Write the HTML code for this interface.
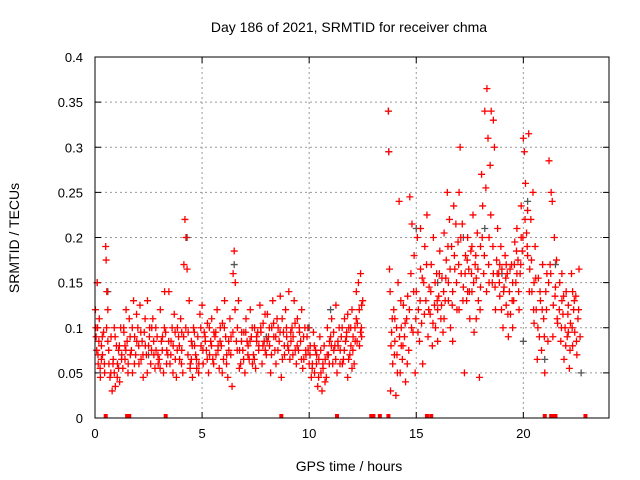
<!DOCTYPE html>
<html><head><meta charset="utf-8"><style>
body{margin:0;background:#fff}
svg{display:block;font-family:"Liberation Sans",sans-serif}
</style></head><body>
<svg id="chart" width="640" height="480" viewBox="0 0 640 480">
<rect width="640" height="480" fill="#fff"/>
<text x="349" y="32" font-size="14" text-anchor="middle">Day 186 of 2021, SRMTID for receiver chma</text>
<text x="0" y="0" font-size="14" text-anchor="middle" transform="translate(19,238) rotate(-90)">SRMTID / TECUs</text>
<text x="349" y="471" font-size="14" text-anchor="middle">GPS time / hours</text>
<g id="grid"></g>
<g id="ticks"></g>
<g id="gray"></g>
<g id="red"></g>
<rect x="95" y="57" width="514" height="361" fill="none" stroke="#000" stroke-width="1"/>
</svg>
<script>
const xTicks=[0,5,10,15,20];
const yTicks=[0,0.05,0.1,0.15,0.2,0.25,0.3,0.35,0.4];
const yTickLabels=["0","0.05","0.1","0.15","0.2","0.25","0.3","0.35","0.4"];
const redT=[0.02,0.05,0.08,0.1,0.12,0.15,0.18,0.2,0.25,0.3,0.35,0.4,0.45,0.5,0.52,0.55,0.6,0.65,0.7,0.75,0.8,0.85,0.9,0.95,1.0,1.05,1.1,1.15,1.2,1.25,1.3,1.35,1.4,1.45,1.5,1.55,1.6,1.7,1.75,1.8,1.85,1.9,2.0,2.05,2.1,2.2,2.25,2.3,2.4,2.45,2.5,2.6,2.65,2.7,2.8,2.85,2.9,3.0,3.05,3.1,3.2,3.25,3.3,3.4,3.45,3.5,3.6,3.65,3.7,3.8,3.9,3.95,4.0,4.05,4.1,4.15,4.2,4.25,4.3,4.35,4.4,4.45,4.5,4.55,4.6,4.7,4.75,4.8,4.9,4.95,5.0,5.05,5.1,5.2,5.25,5.3,5.4,5.45,5.5,5.6,5.65,5.7,5.8,5.85,5.9,6.0,6.05,6.1,6.2,6.25,6.3,6.4,6.45,6.5,6.55,6.6,6.65,6.7,6.8,6.85,6.9,7.0,7.05,7.1,7.2,7.25,7.3,7.4,7.45,7.5,7.6,7.65,7.7,7.8,7.85,7.9,8.0,8.05,8.1,8.2,8.25,8.3,8.4,8.45,8.5,8.6,8.65,8.7,8.8,8.85,8.9,9.0,9.05,9.1,9.2,9.25,9.3,9.4,9.45,9.5,9.6,9.65,9.7,9.8,9.85,9.9,10.0,10.05,10.1,10.2,10.25,10.3,10.4,10.45,10.5,10.6,10.65,10.7,10.8,10.85,10.9,11.0,11.05,11.1,11.2,11.25,11.3,11.4,11.45,11.5,11.6,11.65,11.7,11.8,11.85,11.9,12.0,12.05,12.1,12.2,12.25,12.3,12.35,12.4,12.45,12.5,12.2,12.4,11.8,12.0,
0.3,0.6,0.9,1.1,1.4,1.65,1.95,2.15,2.35,2.55,2.75,2.95,3.15,3.35,3.55,3.75,3.85,4.05,4.5,4.65,4.85,5.15,5.35,5.55,5.75,5.95,6.15,6.35,6.75,6.95,7.15,7.35,7.55,7.75,7.95,8.15,8.35,8.55,8.75,8.95,9.15,9.35,9.55,9.75,9.95,10.15,10.35,10.55,10.75,10.95,11.15,11.35,11.55,11.75,11.95,12.15,12.45,
13.7,13.72,13.75,13.78,13.8,13.85,13.9,13.95,14.0,14.05,14.1,14.15,14.2,14.25,14.3,14.35,14.4,14.45,14.5,14.55,14.6,14.65,14.7,14.75,14.8,14.85,14.9,14.95,15.0,15.05,15.1,15.15,15.2,15.25,15.3,15.35,15.4,15.45,15.5,15.55,15.6,15.65,15.7,15.75,15.8,15.85,15.9,15.95,16.0,16.05,16.1,16.15,16.2,16.25,16.3,16.35,16.4,16.45,16.5,16.55,16.6,16.65,16.7,16.75,16.8,16.85,16.9,16.95,17.0,17.05,17.1,17.15,17.2,17.25,17.3,17.35,17.4,17.45,17.5,17.55,17.6,17.65,17.7,17.75,17.8,17.85,17.9,17.95,18.0,18.05,18.1,18.15,18.2,18.25,18.3,18.35,18.4,18.45,18.5,18.55,18.6,18.65,18.7,18.75,18.8,18.85,18.9,18.95,19.0,19.05,19.1,19.15,19.2,19.25,19.3,19.35,19.4,19.45,19.5,19.55,19.6,19.65,19.7,19.75,19.8,19.85,19.9,19.95,20.0,20.05,20.1,20.15,20.2,20.25,20.3,20.35,20.4,20.45,20.5,20.55,20.6,20.65,20.7,20.75,20.8,20.85,20.9,20.95,21.0,21.05,21.1,21.15,21.2,21.25,21.3,21.35,21.4,21.45,21.5,21.55,21.6,21.7,21.75,21.8,21.85,21.9,21.95,22.0,22.05,22.1,22.15,22.2,22.25,22.3,22.35,22.4,22.45,22.5,22.55,22.6,22.65,
15.2,16.0,16.3,16.7,17.0,17.4,17.8,18.0,18.4,18.6,18.9,19.2,19.5,19.7,19.9,20.2,20.5,21.8,22.1,22.3,16.5,17.6,14.0,14.3];
const redV=[.12,.09,.075,.15,.1,.06,.085,.11,.045,.08,.07,.095,.05,.19,.175,.14,.12,.06,.045,.09,.03,.065,.05,.035,.08,.06,.075,.04,.1,.07,.055,.095,.065,.12,.085,.06,.11,.075,.05,.13,.09,.07,.1,.06,.125,.085,.045,.095,.07,.13,.08,.06,.1,.11,.055,.075,.09,.065,.12,.085,.05,.14,.095,.07,.14,.06,.1,.08,.115,.045,.09,.065,.11,.075,.05,.17,.22,.2,.165,.095,.13,.06,.085,.045,.1,.07,.055,.09,.115,.08,.125,.06,.095,.075,.105,.05,.085,.11,.065,.09,.07,.12,.055,.1,.08,.065,.13,.09,.045,.075,.11,.035,.16,.185,.15,.085,.1,.13,.06,.095,.075,.05,.11,.085,.065,.12,.09,.07,.1,.055,.095,.08,.125,.06,.105,.085,.07,.115,.09,.05,.1,.13,.075,.06,.11,.085,.135,.045,.095,.07,.12,.08,.14,.065,.1,.09,.13,.06,.11,.075,.085,.12,.055,.1,.07,.09,.06,.08,.045,.095,.05,.075,.035,.065,.09,.03,.055,.08,.045,.1,.07,.09,.11,.06,.08,.125,.05,.1,.075,.09,.065,.11,.085,.045,.1,.07,.12,.09,.06,.14,.105,.15,.08,.16,.125,.13,.11,.095,.115,.055,
.065,.085,.1,.055,.08,.07,.085,.065,.08,.1,.07,.06,.09,.075,.085,.065,.1,.095,.065,.08,.06,.085,.07,.095,.08,.105,.07,.09,.075,.095,.08,.06,.085,.095,.075,.08,.09,.1,.065,.09,.085,.075,.095,.065,.075,.06,.07,.05,.065,.085,.075,.08,.06,.095,.08,.085,.09,
.34,.295,.165,.14,.03,.095,.06,.12,.085,.025,.07,.15,.24,.05,.1,.065,.125,.09,.04,.11,.135,.075,.245,.16,.215,.095,.18,.05,.14,.2,.12,.085,.165,.105,.06,.15,.19,.13,.225,.09,.145,.115,.17,.08,.2,.125,.1,.16,.085,.135,.185,.11,.155,.095,.205,.13,.175,.25,.15,.22,.1,.19,.14,.235,.165,.215,.12,.195,.25,.3,.16,.215,.145,.05,.18,.13,.2,.165,.11,.185,.14,.225,.095,.17,.155,.205,.13,.045,.19,.27,.235,.16,.34,.255,.365,.31,.2,.28,.34,.15,.33,.3,.12,.175,.21,.16,.135,.19,.165,.1,.145,.18,.125,.16,.09,.14,.115,.17,.1,.13,.195,.15,.21,.175,.12,.16,.235,.185,.31,.295,.26,.205,.23,.315,.165,.22,.14,.25,.105,.19,.12,.065,.155,.09,.13,.075,.17,.11,.05,.14,.16,.085,.285,.17,.25,.24,.125,.2,.145,.175,.105,.15,.085,.13,.115,.065,.1,.14,.09,.125,.055,.105,.16,.08,.12,.095,.135,.07,.11,.165,.09,
.21,.12,.11,.085,.12,.14,.11,.145,.15,.16,.17,.17,.15,.16,.2,.18,.15,.16,.095,.14,.13,.19,.11,.08];
const redT2=[0.04,0.14,0.24,0.34,0.44,0.54,0.64,0.74,0.84,0.94,1.04,1.14,1.24,1.34,1.44,1.54,1.64,1.74,1.84,1.94,2.04,2.14,2.24,2.34,2.44,2.54,2.64,2.74,2.84,2.94,3.04,3.14,3.24,3.34,3.44,3.54,3.64,3.74,3.84,3.94,4.04,4.14,4.24,4.34,4.44,4.54,4.64,4.74,4.84,4.94,5.04,5.14,5.24,5.34,5.44,5.54,5.64,5.74,5.84,5.94,6.04,6.14,6.24,6.34,6.44,6.54,6.64,6.74,6.84,6.94,7.04,7.14,7.24,7.34,7.44,7.54,7.64,7.74,7.84,7.94,8.04,8.14,8.24,8.34,8.44,8.54,8.64,8.74,8.84,8.94,9.04,9.14,9.24,9.34,9.44,9.54,9.64,9.74,9.84,9.94,10.04,10.14,10.24,10.34,10.44,10.54,10.64,10.74,10.84,10.94,11.04,11.14,11.24,11.34,11.44,11.54,11.64,11.74,11.84,11.94,12.04,12.14,12.24,12.34,12.44,
13.82,13.88,13.98,14.08,14.12,14.22,14.28,14.38,14.48,14.58,14.68,14.78,14.88,14.98,15.08,15.18,15.28,15.38,15.48,15.58,15.68,15.78,15.88,15.98,16.08,16.18,16.28,16.38,16.48,16.58,16.68,16.78,16.88,16.98,17.08,17.18,17.28,17.38,17.48,17.58,17.68,17.78,17.88,17.98,18.08,18.18,18.28,18.38,18.48,18.58,18.68,18.78,18.88,18.98,19.08,19.18,19.28,19.38,19.48,19.58,19.68,19.78,19.88,19.98,20.08,20.18,20.28,20.38,20.48,20.58,20.68,20.78,20.88,20.98,21.08,21.18,21.28,21.38,21.48,21.58,21.68,21.78,21.88,21.98,22.08,22.18,22.28,22.38,22.48,22.58];
const redV2=[.1,.07,.055,.09,.06,.1,.075,.05,.06,.09,.045,.08,.065,.1,.075,.05,.09,.1,.06,.115,.08,.095,.07,.11,.05,.09,.075,.085,.1,.07,.055,.075,.1,.06,.085,.07,.05,.095,.075,.08,.06,.09,.1,.07,.055,.08,.095,.065,.05,.1,.075,.09,.065,.1,.08,.06,.095,.075,.085,.05,.1,.06,.085,.07,.095,.12,.075,.055,.085,.065,.095,.07,.085,.1,.065,.09,.075,.1,.08,.115,.085,.1,.07,.105,.09,.075,.095,.11,.08,.1,.075,.095,.07,.105,.08,.1,.065,.09,.075,.1,.07,.055,.08,.06,.045,.075,.06,.04,.07,.06,.08,.095,.065,.085,.06,.1,.075,.09,.065,.1,.075,.1,.085,.12,.1,
.08,.11,.07,.1,.05,.09,.13,.08,.105,.06,.12,.1,.14,.11,.095,.13,.155,.115,.17,.12,.14,.105,.15,.13,.16,.125,.14,.155,.19,.165,.125,.18,.15,.17,.2,.13,.16,.175,.14,.16,.15,.18,.165,.12,.2,.18,.14,.17,.225,.19,.145,.16,.15,.12,.14,.155,.115,.165,.13,.17,.185,.14,.17,.2,.22,.19,.14,.175,.12,.155,.1,.14,.12,.09,.12,.15,.16,.09,.135,.11,.12,.1,.135,.08,.115,.075,.1,.13,.085,.12];
const grayT=[0.1,0.6,4.3,6.5,13.72,13.7,15.0,17.2,18.2,19.0,20.2,21.5,22.7,2.5,8.0,10.0,11.0,16.0,21.0,20.0];
const grayV=[.15,.14,.2,.17,.295,.34,.21,.2,.21,.16,.24,.17,.05,.07,.09,.1,.12,.15,.065,.085];
const zeroT=[0.5,1.5,1.6,3.3,8.7,11.3,12.9,13.0,13.3,13.7,15.5,15.7,21.0,21.3,21.4,21.5,22.9];

const X0=95,X1=609,Y0=418,Y1=57,XMAX=24,YMAX=0.4;
const sx=t=>X0+t/XMAX*(X1-X0);
const sy=v=>Y0-v/YMAX*(Y0-Y1);
const NS="http://www.w3.org/2000/svg";
function mk(tag,attrs,parent){const e=document.createElementNS(NS,tag);for(const k in attrs)e.setAttribute(k,attrs[k]);parent.appendChild(e);return e;}
const grid=document.getElementById('grid'),ticks=document.getElementById('ticks');
xTicks.forEach((t,i)=>{
  const x=sx(t);
  if(t>0){const g=mk('line',{x1:x,x2:x,y1:Y1,y2:Y0,stroke:'#999','stroke-dasharray':'2,3','stroke-width':1},grid);
  
  }
  mk('line',{x1:x,x2:x,y1:Y0,y2:Y0-6,stroke:'#000'},ticks);
  mk('line',{x1:x,x2:x,y1:Y1,y2:Y1+6,stroke:'#000'},ticks);
  const l=mk('text',{x:x,y:Y0+20,'font-size':13,'text-anchor':'middle'},ticks);
  l.textContent=String(t);
  
  
});
yTicks.forEach((v,i)=>{
  const y=sy(v);
  if(v>0&&v<YMAX){const g=mk('line',{x1:X0,x2:X1,y1:y,y2:y,stroke:'#999','stroke-dasharray':'2,3','stroke-width':1},grid);
  
  }
  mk('line',{x1:X0,x2:X0+6,y1:y,y2:y,stroke:'#000'},ticks);
  mk('line',{x1:X1,x2:X1-6,y1:y,y2:y,stroke:'#000'},ticks);
  const l=mk('text',{x:X0-12,y:y+5,'font-size':13,'text-anchor':'end'},ticks);
  l.textContent=yTickLabels[i];
  
  
});
function plus(g,t,v,color,name){
  const x=sx(t),y=sy(v);
  const p=mk('path',{d:`M${x-3.5} ${y}H${x+3.5}M${x} ${y-3.5}V${y+3.5}`,stroke:color,'stroke-width':1.3,fill:'none'},g);
  
  
}
const gg=document.getElementById('gray'),rg=document.getElementById('red');
grayT.forEach((t,i)=>plus(gg,t,grayV[i],'#555','gray-point'));
redT.forEach((t,i)=>plus(rg,t,redV[i],'#f00','red-point'));
redT2.forEach((t,i)=>plus(rg,t,redV2[i],'#f00','red-point'));
zeroT.forEach(t=>{
  const r=mk('rect',{x:sx(t)-2,y:Y0-4,width:4,height:4,fill:'#f00'},rg);
  
  
});
</script>
</body></html>
